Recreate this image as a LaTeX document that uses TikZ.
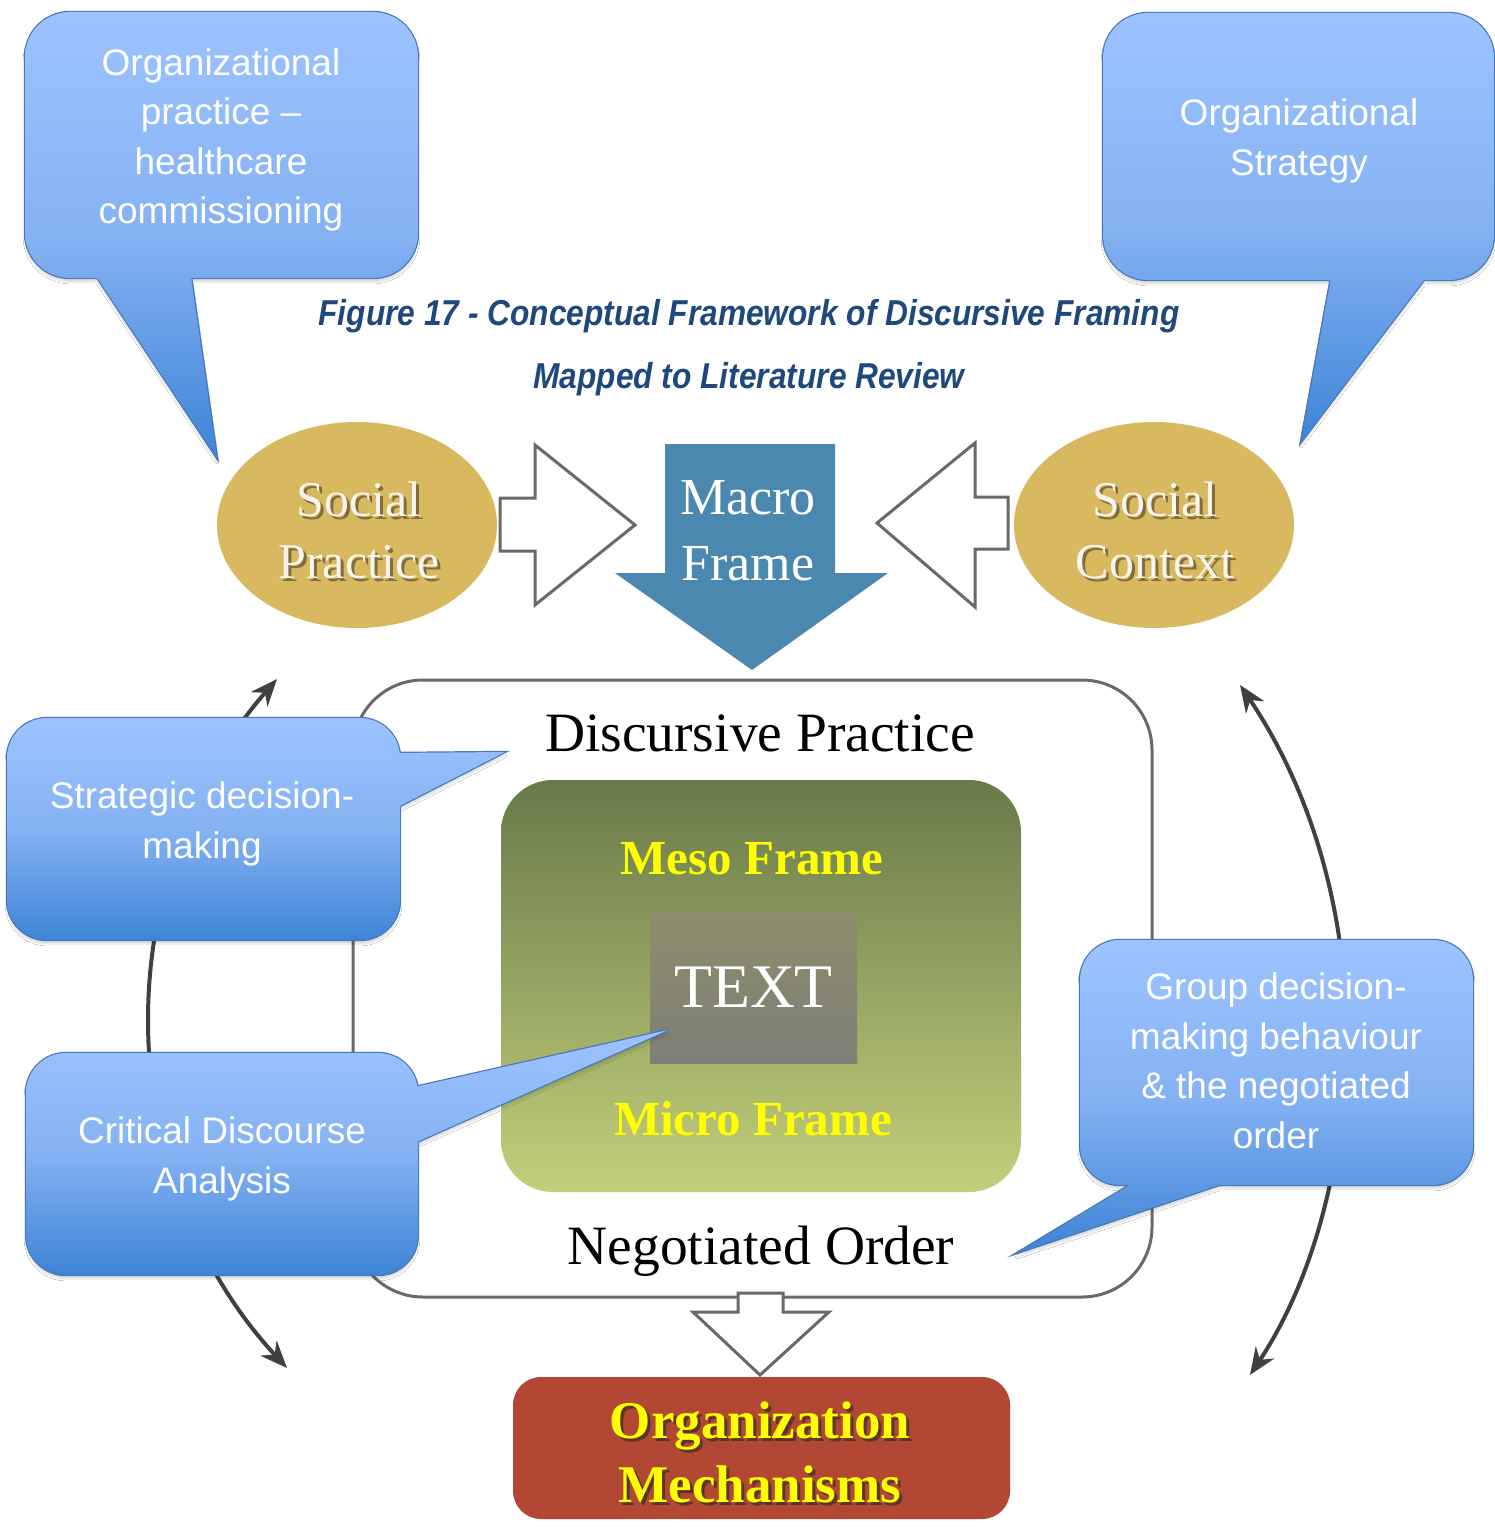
\documentclass[tikz,border=0pt]{standalone}
\usepackage{fontspec}
\setmainfont{Liberation Serif}
\setsansfont{Liberation Sans}
\newfontfamily\captionfont[FakeStretch=0.88]{Liberation Sans}
\usetikzlibrary{shapes.geometric,arrows.meta,shadows.blur}

\definecolor{bubT}{RGB}{157,195,255}
\definecolor{bubM}{RGB}{133,178,243}
\definecolor{bubB}{RGB}{62,132,214}
\definecolor{bubEdge}{RGB}{70,118,184}
\definecolor{gold}{RGB}{217,185,96}
\definecolor{steel}{RGB}{74,136,176}
\definecolor{brick}{RGB}{178,72,52}
\definecolor{oliveTop}{RGB}{104,122,74}
\definecolor{oliveBot}{RGB}{195,207,123}
\definecolor{textTop}{RGB}{140,141,108}
\definecolor{textBot}{RGB}{127,127,118}
\definecolor{titleblue}{RGB}{31,73,125}
\definecolor{framegray}{RGB}{105,105,105}
\definecolor{cyclegray}{RGB}{64,64,64}
\definecolor{paleText}{RGB}{246,244,236}
\definecolor{shadeBrown}{RGB}{60,48,30}

% light-to-dark blue fill of the speech bubbles
\pgfdeclareverticalshading{bubbleshade}{100bp}{color(0bp)=(bubB); color(25bp)=(bubB); color(50bp)=(bubM); color(75bp)=(bubT); color(100bp)=(bubT)}

% a speech bubble: soft shadow, edge, then the shaded body on top
\newcommand\bubble[1]{%
  \path[blur shadow={shadow xshift=0pt,shadow yshift=-4pt,shadow opacity=14,shadow blur steps=6}] #1;
  \draw[bubEdge,line width=2.4pt] #1;
  \shade[shading=bubbleshade] #1;
}

\tikzset{
  bubtext/.style={text=white,align=center,inner sep=0pt,
    font=\sffamily\fontsize{37}{49.5}\selectfont},
  captiontext/.style={text=titleblue,inner sep=0pt,
    font=\captionfont\bfseries\itshape\fontsize{36}{40}\selectfont},
  goldell/.style={ellipse,fill=gold,minimum width=280pt,minimum height=206pt,inner sep=0pt},
  ovaltext/.style={align=center,inner sep=0pt,text=paleText,
    font=\fontsize{50}{62}\selectfont},
  ovalshadow/.style={ovaltext,text=shadeBrown,text opacity=0.55},
  blockarrow/.style={draw=framegray,line width=3pt,fill=white,line join=miter},
  cyclearrow/.style={draw=cyclegray,line width=4pt,
    {Stealth[length=27pt,width=22pt]}-{Stealth[length=27pt,width=22pt]}},
  serifbig/.style={inner sep=0pt,text=black,font=\fontsize{55.5}{60}\selectfont},
  frametext/.style={inner sep=0pt,text={rgb,255:red,255;green,255;blue,0},
    font=\bfseries\fontsize{49}{55}\selectfont},
}

\begin{document}
\begin{tikzpicture}[x=1pt,y=-1pt]
\useasboundingbox (0,0) rectangle (1495,1528);
\fill[white] (0,0) rectangle (1495,1528);

% feedback cycle arcs on both sides
\coordinate (lTop) at (277,679);
\coordinate (lBot) at (287,1368);
\coordinate (rTop) at (1240,685);
\coordinate (rBot) at (1250,1375);
\draw[cyclearrow] (lBot) .. controls (199,1273) and (148,1150) .. (148,1020)
                         .. controls (148,894) and (194,774) .. (lTop);
\draw[cyclearrow] (rTop) .. controls (1309,787) and (1346,907) .. (1346,1030)
                         .. controls (1346,1151) and (1317,1274) .. (rBot);

% discursive practice frame
\node[draw=framegray,line width=3pt,fill=white,rounded corners=70pt,
      minimum width=799pt,minimum height=617pt,inner sep=0pt] (dp) at (752.5,988.5) {};
\node[serifbig] (dptitle) at (760,733) {Discursive Practice};
\node[serifbig] (notitle) at (761,1251) {Negotiated Order};

% meso / micro frame box
\node[rounded corners=52pt,top color=oliveTop,bottom color=oliveBot,
      minimum width=520pt,minimum height=412pt,inner sep=0pt] (meso) at (761,986) {};
\node[frametext] (mesotxt) at (752,859) {Meso Frame};
\node[frametext] (microtxt) at (753,1119) {Micro Frame};
\node[top color=textTop,bottom color=textBot,minimum width=207pt,minimum height=151pt,
      inner sep=0pt,text=white,font=\fontsize{62}{62}\selectfont] (textbox) at (753.5,987.5) {TEXT};

% hollow arrow down to the organization mechanisms
\draw[blockarrow] (738,1293) -- (783,1293) -- (783,1312) -- (829,1312) -- (760,1375)
                  -- (693,1312) -- (738,1312) -- cycle;

% organization mechanisms
\node[fill=brick,rounded corners=28pt,minimum width=497pt,minimum height=142pt,
      inner sep=0pt] (om) at (761.5,1448) {};
\node[align=center,inner sep=0pt,text=shadeBrown,text opacity=0.75,
      font=\bfseries\fontsize{53}{64}\selectfont] (omshadow) at (763,1455)
      {Organization\\Mechanisms};
\node[align=center,inner sep=0pt,text={rgb,255:red,255;green,255;blue,0},
      font=\bfseries\fontsize{53}{64}\selectfont] (omtxt) at (760,1452)
      {Organization\\Mechanisms};

% social practice / social context ovals
\node[goldell] (sp) at (357,525) {};
\node[goldell] (sc) at (1154,525) {};
\node[ovalshadow] (spshadow) at (362,533) {Social\\Practice};
\node[ovaltext] (sptxt) at (359,530) {Social\\Practice};
\node[ovalshadow] (scshadow) at (1158,533) {Social\\Context};
\node[ovaltext] (sctxt) at (1155,530) {Social\\Context};

% hollow side arrows
\draw[blockarrow] (500,498) -- (535,498) -- (535,445) -- (635,525) -- (535,605)
                  -- (535,551) -- (500,551) -- cycle;
\draw[blockarrow] (1008,497) -- (975,497) -- (975,443) -- (877,523) -- (975,607)
                  -- (975,549) -- (1008,549) -- cycle;

% macro frame arrow
\fill[steel] (665,444) -- (835,444) -- (835,573) -- (888,573) -- (752,670)
             -- (615,573) -- (665,573) -- cycle;
\node[align=center,inner sep=0pt,text=white,font=\fontsize{52}{66}\selectfont]
      (macrotxt) at (748,531) {Macro\\Frame};

% caption
\node[captiontext] (cap1) at (749,316) {Figure 17 - Conceptual Framework of Discursive Framing};
\node[captiontext] (cap2) at (749,379) {Mapped to Literature Review};

% speech bubbles
\bubble{[rounded corners=45pt] (25,12) -- (418,12) -- (418,278) -- (25,278) -- cycle
        [sharp corners] (190,270) -- (217,458) -- (92,270) -- cycle}
\node[bubtext] (b1) at (221,140) {Organizational\\practice –\\healthcare\\commissioning};

\bubble{[rounded corners=45pt] (1103,13) -- (1494,13) -- (1494,280) -- (1103,280) -- cycle
        [sharp corners] (1430,272) -- (1301,442) -- (1332,272) -- cycle}
\node[bubtext] (b2) at (1299,141) {Organizational\\Strategy};

\bubble{[rounded corners=40pt] (7,718) -- (400,718) -- (400,940) -- (7,940) -- cycle
        [sharp corners] (392,753) -- (505,752) -- (392,810) -- cycle}
\node[bubtext] (b3) at (202,824) {Strategic decision-\\making};

\bubble{[rounded corners=40pt] (26,1053) -- (418,1053) -- (418,1275) -- (26,1275) -- cycle
        [sharp corners] (410,1088) -- (668,1030) -- (410,1145) -- cycle}
\node[bubtext] (b4) at (222,1159) {Critical Discourse\\Analysis};

\bubble{[rounded corners=40pt] (1080,940) -- (1473,940) -- (1473,1185) -- (1080,1185) -- cycle
        [sharp corners] (1243,1177) -- (1017,1253) -- (1143,1177) -- cycle}
\node[bubtext] (b5) at (1276,1061) {Group decision-\\making behaviour\\\& the negotiated\\order};
\end{tikzpicture}
\end{document}
